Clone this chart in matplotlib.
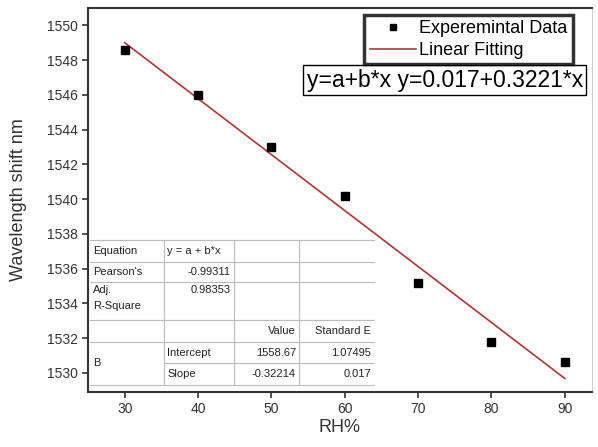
import matplotlib
matplotlib.use("Agg")
import matplotlib.pyplot as plt

plt.rcParams['font.family'] = ['Liberation Sans', 'DejaVu Sans']

# data
rh = [30, 40, 50, 60, 70, 80, 90]
shift = [1548.6, 1546.0, 1543.0, 1540.2, 1535.2, 1531.8, 1530.6]
intercept = 1558.67
slope = -0.32214
fit_x = [30, 90]
fit_y = [intercept + slope * x for x in fit_x]

yticks = [1530, 1532, 1534, 1536, 1538, 1540, 1542, 1544, 1546, 1548, 1550]
xticks = [30, 40, 50, 60, 70, 80, 90]

table_rows = [
    ["Equation", "y = a + b*x", "", ""],
    ["Pearson's", "-0.99311", "", ""],
    ["Adj.\nR-Square", "0.98353", "", ""],
    ["", "", "Value", "Standard E"],
    ["B", "Intercept", "1558.67", "1.07495"],
    ["", "Slope", "-0.32214", "0.017"],
]

fig = plt.figure(figsize=(5.98, 4.47), dpi=100)
ax = fig.add_axes([88/598, 55/447, 504/598, 384/447])

ax.plot(rh, shift, 's', color='black', markersize=6, label="Experemintal Data", zorder=3)
ax.plot(fit_x, fit_y, color='#b03535', linewidth=1.2, label="Linear Fitting")

ax.set_xlim(25, 93.7)
ax.set_ylim(1528.9, 1551.0)
ax.set_xticks(xticks)
ax.set_yticks(yticks)
ax.tick_params(direction='out', length=4, width=1.2, labelsize=10, colors='#333333')
ax.set_xlabel("RH%", fontsize=13, color='#333333', labelpad=2)
ax.set_ylabel("Wavelength shift nm", fontsize=13, color='#333333', labelpad=14)
for s in ['left', 'bottom', 'top']:
    ax.spines[s].set_linewidth(1.5)
    ax.spines[s].set_color('#333333')
ax.spines['right'].set_color('#cccccc')

leg = ax.legend(loc='upper right', bbox_to_anchor=(0.962, 0.982), fontsize=13,
                frameon=True, fancybox=False, borderpad=0.3, handlelength=2.6,
                handletextpad=0.15, labelspacing=0.25, borderaxespad=0,
                markerscale=0.8)
leg.get_frame().set_edgecolor('black')
leg.get_frame().set_linewidth(2.5)

ax.text(0.708, 0.8125, "y=a+b*x y=0.017+0.3221*x", transform=ax.transAxes,
        fontsize=16.5, ha='center', va='center', zorder=5,
        bbox=dict(boxstyle='square,pad=0.15', fc='white', ec='black', lw=1))

# results table drawn in axes fraction
col_w = [74, 70, 65, 75]
row_h = [22, 20, 38, 22, 21, 22]
x0, y0 = 90, 240
W, H = 504.0, 384.0

def fx(px):
    return (px - 88) / W

def fy(py):
    return (392 - py) / H

tr = ax.transAxes
lc = '#bbbbbb'
cx = [x0]
for w in col_w:
    cx.append(cx[-1] + w)
ry = [y0]
for h in row_h:
    ry.append(ry[-1] + h)

for i, yy in enumerate(ry):
    xs = cx[1] if i == 5 else cx[0]
    ax.plot([fx(xs), fx(cx[-1])], [fy(yy), fy(yy)], color=lc, lw=0.8, transform=tr)
for xx in cx[1:-1]:
    ax.plot([fx(xx), fx(xx)], [fy(ry[0]), fy(ry[-1])], color=lc, lw=0.8, transform=tr)

for i, row in enumerate(table_rows):
    for j, val in enumerate(row):
        if not val:
            continue
        ytop = ry[i]
        va = 'center'
        if i == 4 and j == 0:
            yc = (ry[4] + ry[6]) / 2
        elif i == 2 and j == 0:
            yc = ytop + 3
            va = 'top'
        elif i == 2:
            yc = ytop + 8
        else:
            yc = ytop + row_h[i] / 2
        if j == 0 or (j == 1 and i in (0, 4, 5)):
            ax.text(fx(cx[j] + 3), fy(yc), val, transform=tr, fontsize=8,
                    ha='left', va=va, color='#222222', linespacing=1.7)
        else:
            ax.text(fx(cx[j + 1] - 3), fy(yc), val, transform=tr, fontsize=8,
                    ha='right', va=va, color='#222222')

fig.savefig("out.png", dpi=100)
